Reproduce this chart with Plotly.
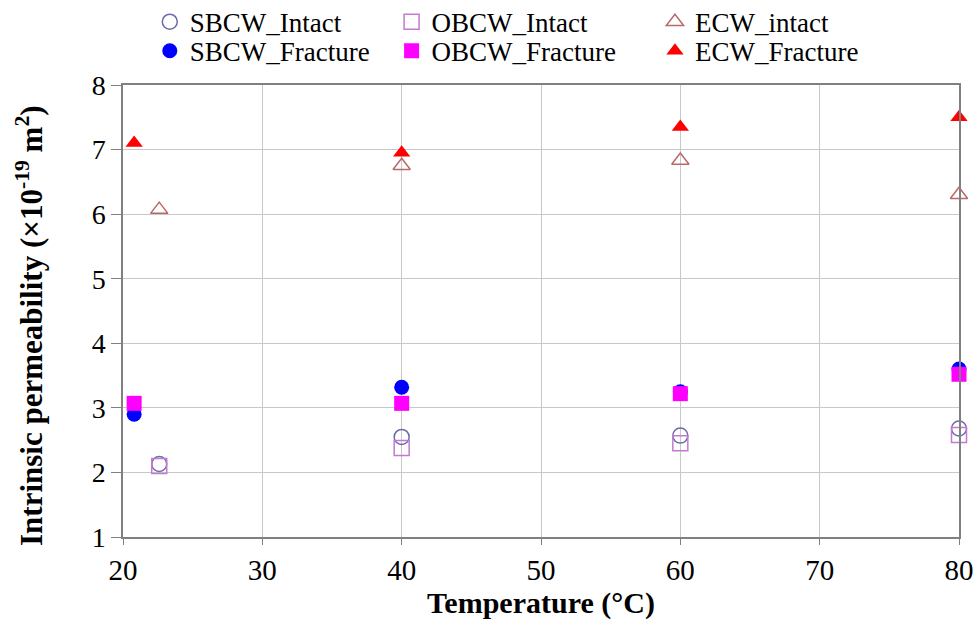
import plotly.graph_objects as go

temp_frac = [20.8, 40, 60, 80]
temp_intact = [22.6, 40, 60, 80]

sbcw_intact = [2.13, 2.55, 2.57, 2.68]
obcw_intact = [2.10, 2.38, 2.45, 2.58]
ecw_intact = [6.07, 6.75, 6.83, 6.30]
sbcw_frac = [2.90, 3.32, 3.25, 3.60]
obcw_frac = [3.07, 3.07, 3.22, 3.52]
ecw_frac = [7.10, 6.95, 7.35, 7.50]

x_ticks = [20, 30, 40, 50, 60, 70, 80]
y_ticks = [1, 2, 3, 4, 5, 6, 7, 8]

font_fam = "Liberation Serif, Times New Roman, serif"

fig = go.Figure()
ms = 15
series = [
    ("SBCW_Intact", temp_intact, sbcw_intact, "circle-open", "#6b6ba8", "legend"),
    ("OBCW_Intact", temp_intact, obcw_intact, "square-open", "#c47ad0", "legend2"),
    ("ECW_intact", temp_intact, ecw_intact, "triangle-up-open", "#b86a6a", "legend3"),
    ("SBCW_Fracture", temp_frac, sbcw_frac, "circle", "#0000ff", "legend4"),
    ("OBCW_Fracture", temp_frac, obcw_frac, "square", "#ff00ff", "legend5"),
    ("ECW_Fracture", temp_frac, ecw_frac, "triangle-up", "#ff0000", "legend6"),
]
for name, xs, ys, sym, col, lg in series:
    line = dict(color=col, width=1.5) if "open" in sym else dict(color=col, width=0)
    fig.add_trace(go.Scatter(
        x=xs, y=ys, mode="markers", name=name, legend=lg, cliponaxis=False,
        showlegend=True,
        marker=dict(symbol=sym, size=ms, color=col, line=line),
    ))

leg_common = dict(orientation="h", font=dict(family=font_fam, size=27, color="black"),
                  bgcolor="rgba(0,0,0,0)", xanchor="left", yanchor="middle", itemwidth=30,
                  xref="container", yref="container")
col_x = [0.153, 0.400, 0.669]
row_y = [0.965, 0.919]
fig.update_layout(
    width=979, height=632,
    showlegend=True,
    margin=dict(l=123, r=20, t=85, b=95, autoexpand=False),
    paper_bgcolor="white", plot_bgcolor="white",
    font=dict(family=font_fam, color="black"),
    legend=dict(x=col_x[0], y=row_y[0], **leg_common),
    legend2=dict(x=col_x[1], y=row_y[0], **leg_common),
    legend3=dict(x=col_x[2], y=row_y[0], **leg_common),
    legend4=dict(x=col_x[0], y=row_y[1], **leg_common),
    legend5=dict(x=col_x[1], y=row_y[1], **leg_common),
    legend6=dict(x=col_x[2], y=row_y[1], **leg_common),
    xaxis=dict(
        range=[20, 80], tickvals=x_ticks, ticktext=[str(v) for v in x_ticks],
        tickfont=dict(size=29, family=font_fam),
        showgrid=True, gridcolor="#c8c8c8", gridwidth=1,
        showline=True, linecolor="#808080", linewidth=1.5, mirror=True,
        ticks="outside", ticklen=6, tickcolor="#808080",
        title=dict(text="<b>Temperature (°C)</b>", font=dict(size=30, family=font_fam), standoff=6),
        zeroline=False,
    ),
    yaxis=dict(
        range=[1, 8], tickvals=y_ticks, ticktext=[str(v) for v in y_ticks],
        tickfont=dict(size=28, family=font_fam),
        showgrid=True, gridcolor="#c8c8c8", gridwidth=1,
        showline=True, linecolor="#808080", linewidth=1.5, mirror=True,
        ticks="outside", ticklen=10, tickcolor="#808080",
        zeroline=False,
    ),
    annotations=[dict(
        text="<b>Intrinsic permeability (×10<sup>-19</sup> m<sup>2</sup>)</b>",
        xref="paper", yref="paper", x=0, y=0.5, xanchor="center", yanchor="middle",
        xshift=-94, yshift=-15, textangle=-90, showarrow=False,
        font=dict(size=31, family=font_fam, color="black"),
    )],
)
fig.write_html("out.html")
